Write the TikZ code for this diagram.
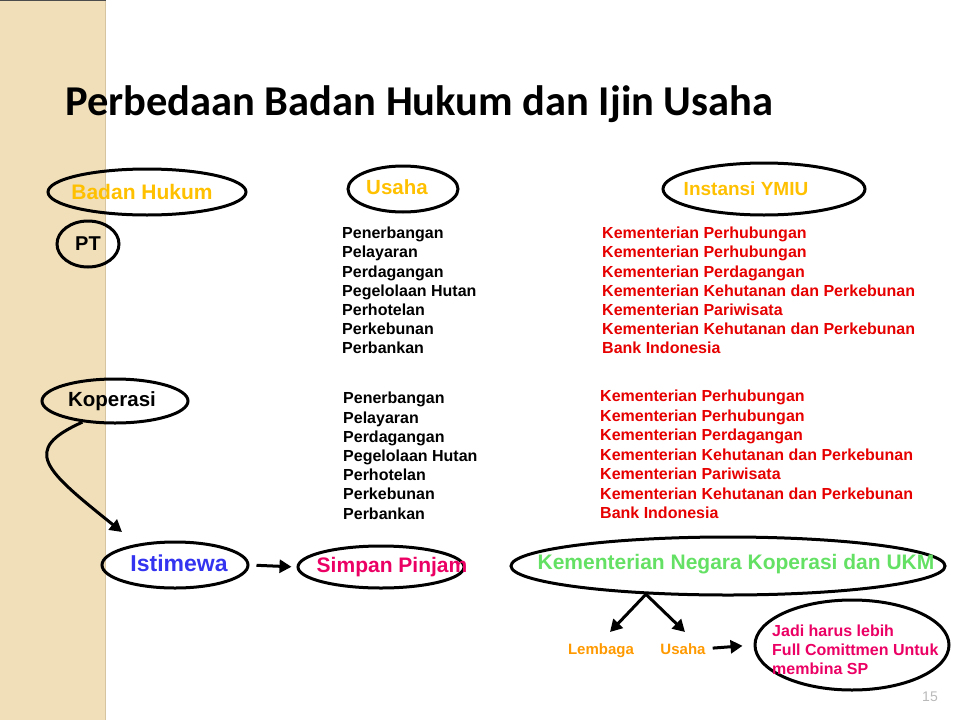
\documentclass[tikz,border=0pt]{standalone}
\usepackage{fontspec}
\setmainfont{Liberation Sans}
\newfontfamily\titlefont{Carlito}
\usepackage{xcolor}
\usetikzlibrary{shapes.geometric, arrows.meta, positioning}

\definecolor{barfill}{RGB}{241,223,185}
\definecolor{baredge}{RGB}{214,196,160}
\definecolor{gold}{RGB}{255,192,0}
\definecolor{listred}{RGB}{230,0,0}
\definecolor{istblue}{RGB}{51,51,240}
\definecolor{pinkred}{RGB}{235,0,100}
\definecolor{lightgreen}{RGB}{100,225,100}
\definecolor{orangetxt}{RGB}{255,153,0}
\definecolor{pagegray}{RGB}{185,185,185}

\begin{document}
\begin{tikzpicture}[
  x=1pt, y=-1pt,
  oval/.style={ellipse, draw=black, line width=3pt, inner sep=0pt},
  headtext/.style={inner sep=0pt, font=\bfseries\fontsize{19}{21}\selectfont},
  listtext/.style={anchor=north west, align=left, inner sep=0pt,
                   font=\bfseries\fontsize{16}{19.2}\selectfont},
  smalltext/.style={anchor=base, inner sep=0pt, font=\bfseries\fontsize{15}{18}\selectfont},
  arrow/.style={-{Triangle[length=12pt, width=13pt]}, line width=3pt}
]
\useasboundingbox (0,0) rectangle (960,720);

% side bar
\fill[barfill] (0,0) rectangle (106,720);
\draw[baredge, line width=1.5pt] (105.5,0) -- (105.5,720);
\draw[black!70, line width=1pt] (0,0.5) -- (106,0.5);

% title
\node[anchor=west, inner sep=0pt, font=\titlefont\bfseries\fontsize{42.5}{46}\selectfont] (title)
  at (65,104) {Perbedaan Badan Hukum dan Ijin Usaha};

% column heads
\node[oval, minimum width=198, minimum height=46,
      label={[headtext, text=gold, font=\bfseries\fontsize{21}{23}\selectfont, xshift=-5pt]center:Badan Hukum}] (hukum) at (147,192) {};
\node[oval, minimum width=62, minimum height=46, headtext, text=black,
      font=\bfseries\fontsize{20}{22}\selectfont] (pt) at (88,244) {PT};
\node[oval, minimum width=110, minimum height=46,
      label={[headtext, text=gold, font=\bfseries\fontsize{20.5}{22}\selectfont, xshift=-6pt, yshift=2pt]center:Usaha}] (usaha) at (403,189) {};
\node[oval, minimum width=202, minimum height=52,
      label={[headtext, text=gold, xshift=-18pt]center:Instansi YMIU}] (ymiu) at (764,189) {};

% PT
\node[listtext] (ptusaha) at (342,227) {%
  Penerbangan\\ Pelayaran\\ Perdagangan\\ Pegelolaan Hutan\\
  Perhotelan\\ Perkebunan\\ Perbankan};
\node[listtext, text=listred] (ptinstansi) at (602,227) {%
  Kementerian Perhubungan\\ Kementerian Perhubungan\\ Kementerian Perdagangan\\
  Kementerian Kehutanan dan Perkebunan\\ Kementerian Pariwisata\\
  Kementerian Kehutanan dan Perkebunan\\ Bank Indonesia};

% Koperasi
\node[oval, minimum width=146, minimum height=44,
      label={[headtext, text=black, font=\bfseries\fontsize{20.5}{22}\selectfont, xshift=-3pt]center:Koperasi}] (kop) at (115,401) {};
\node[listtext] (kopusaha) at (343,392) {%
  Penerbangan\\ Pelayaran\\ Perdagangan\\ Pegelolaan Hutan\\
  Perhotelan\\ Perkebunan\\ Perbankan};
\node[listtext, text=listred, font=\bfseries\fontsize{16}{19.5}\selectfont] (kopinstansi) at (600,390) {%
  Kementerian Perhubungan\\ Kementerian Perhubungan\\ Kementerian Perdagangan\\
  Kementerian Kehutanan dan Perkebunan\\ Kementerian Pariwisata\\
  Kementerian Kehutanan dan Perkebunan\\ Bank Indonesia};

% bottom row
\node[oval, minimum width=146, minimum height=46,
      label={[headtext, text=istblue, font=\bfseries\fontsize{23}{26}\selectfont, xshift=4pt, yshift=2pt]center:Istimewa}] (istimewa) at (175,565) {};
\node[oval, minimum width=166, minimum height=42,
      label={[headtext, text=pinkred, font=\bfseries\fontsize{21}{23}\selectfont, xshift=11pt]center:Simpan Pinjam}] (simpan) at (381,567) {};
\node[oval, minimum width=434, minimum height=58,
      label={[headtext, text=lightgreen, font=\bfseries\fontsize{21}{23}\selectfont, xshift=8pt, yshift=2pt]center:Kementerian Negara Koperasi dan UKM}] (kemneg) at (728,566) {};

\node[smalltext, text=orangetxt] (lembaga) at (601,654) {Lembaga};
\node[smalltext, text=orangetxt] (usahakop) at (683,654) {Usaha};
\node[oval, minimum width=194, minimum height=90] (jadi) at (852,645) {};
\node[anchor=west, align=left, inner sep=0pt, text=pinkred,
      font=\bfseries\fontsize{16}{19}\selectfont] (jaditext) at (772,650) {%
  Jadi harus lebih\\ Full Comittmen Untuk\\ membina SP};

\node[anchor=east, inner sep=0pt, text=pagegray, font=\fontsize{14}{16}\selectfont] (page) at (938,697) {15};

% connectors
\coordinate (kopend) at (122,532);
\coordinate (lembtip) at (610,632);
\coordinate (usahatip) at (685,632);
\draw[arrow] (kop.213) .. controls (20,450) and (45,470) .. (kopend);
\draw[arrow, shorten <=7pt, shorten >=5pt] (istimewa.east) -- (simpan.west);
\draw[arrow] (kemneg.199) -- (lembtip);
\draw[arrow] (kemneg.199) -- (usahatip);
\draw[arrow, shorten <=7pt, shorten >=11pt] (usahakop.east) -- (jadi.west);

\end{tikzpicture}
\end{document}
